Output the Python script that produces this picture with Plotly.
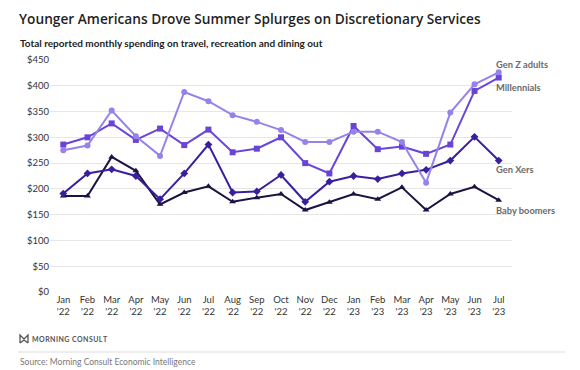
import plotly.graph_objects as go

months = ["Jan<br>'22", "Feb<br>'22", "Mar<br>'22", "Apr<br>'22", "May<br>'22", "Jun<br>'22",
          "Jul<br>'22", "Aug<br>'22", "Sep<br>'22", "Oct<br>'22", "Nov<br>'22", "Dec<br>'22",
          "Jan<br>'23", "Feb<br>'23", "Mar<br>'23", "Apr<br>'23", "May<br>'23", "Jun<br>'23", "Jul<br>'23"]

gen_z = [275, 284, 352, 302, 264, 388, 370, 343, 330, 314, 291, 291, 311, 311, 291, 212, 348, 403, 426]
millennials = [286, 300, 327, 295, 317, 285, 315, 271, 278, 300, 250, 230, 322, 277, 282, 268, 286, 390, 416]
gen_x = [191, 230, 238, 225, 180, 230, 286, 193, 195, 227, 175, 214, 225, 219, 230, 237, 255, 301, 255]
boomers = [186, 186, 262, 235, 170, 193, 205, 175, 183, 190, 159, 174, 190, 180, 203, 159, 190, 204, 178]

y_ticks = [0, 50, 100, 150, 200, 250, 300, 350, 400, 450]
y_labels = ["$" + str(v) for v in y_ticks]

series = [
    ("Gen Z adults", gen_z, "#9682e8", "circle", 442),
    ("Millennials", millennials, "#6a43d8", "square", 397),
    ("Gen Xers", gen_x, "#3a1e9e", "diamond", 237),
    ("Baby boomers", boomers, "#1b1342", "triangle-up", 159),
]

OFF = 8  # page body margin
W, H = 580 - OFF, 370 - OFF
L, T = 50 - OFF, 60 - OFF
R = W - (512 - OFF)
B = H - (292 - OFF)
pw, ph = W - L - R, H - T - B


def px(x):
    return (x - OFF - L) / pw


def py(y):
    return (H - B - (y - OFF)) / ph


x_idx = list(range(len(months)))
fig = go.Figure()
for name, vals, color, sym, _ in series[::-1]:
    fig.add_trace(go.Scatter(
        x=x_idx, y=vals, mode="lines+markers", name=name,
        line=dict(color=color, width=2),
        marker=dict(symbol=sym, size=6, color=color),
        showlegend=False, hoverinfo="skip",
    ))

for name, vals, color, sym, ly in series:
    fig.add_annotation(x=len(months) - 1, y=ly, xref="x", yref="y", text="<b>" + name + "</b>",
                       showarrow=False, xanchor="left", xshift=-5,
                       font=dict(family="Lato, Open Sans, sans-serif", size=9.3, color="#6b6b6b"))

fig.add_annotation(x=px(18), y=py(8), xref="paper", yref="paper", xanchor="left", yanchor="top",
                   text="Younger Americans Drove Summer Splurges on Discretionary Services",
                   showarrow=False, borderpad=0,
                   font=dict(family="Open Sans, sans-serif", size=13.7, weight=600, color="#1f1f1f"))
fig.add_annotation(x=px(18), y=py(43), xref="paper", yref="paper", xanchor="left", yanchor="middle",
                   text="<b>Total reported monthly spending on travel, recreation and dining out</b>",
                   showarrow=False, font=dict(family="Lato, sans-serif", size=10, color="#222222"))
fig.add_annotation(x=px(30), y=py(339), xref="paper", yref="paper", xanchor="left", yanchor="middle",
                   text="<b>" + "\u200a".join("MORNING CONSULT") + "</b>",
                   showarrow=False, font=dict(family="Lato, sans-serif", size=7, color="#555555"))
fig.add_annotation(x=px(18), y=py(362), xref="paper", yref="paper", xanchor="left", yanchor="middle",
                   text="Source: Morning Consult Economic Intelligence",
                   showarrow=False, font=dict(family="Lato, sans-serif", size=8.5, color="#777777"))
fig.add_shape(type="line", xref="paper", yref="paper", x0=px(18), x1=px(565), y0=py(352), y1=py(352),
              line=dict(color="#dddddd", width=1))
fig.add_shape(type="path", xref="paper", yref="paper",
              path=f"M {px(20)} {py(343)} L {px(20)} {py(335)} L {px(24)} {py(339)} L {px(28)} {py(335)} "
                   f"L {px(28)} {py(343)} M {px(20)} {py(343)} L {px(24)} {py(340)} L {px(28)} {py(343)}",
              line=dict(color="#555555", width=1.3))

fig.update_layout(
    width=W, height=H,
    margin=dict(l=L, r=R, t=T, b=B),
    paper_bgcolor="white", plot_bgcolor="white",
    font=dict(family="Lato, Open Sans, sans-serif", size=9.5, color="#333333"),
    xaxis=dict(tickmode="array", tickvals=x_idx, ticktext=months, range=[-0.55, len(months) - 0.45],
               showgrid=False, zeroline=False, showline=False, ticks="",
               tickfont=dict(size=9.5, color="#333333")),
    yaxis=dict(tickmode="array", tickvals=y_ticks, ticktext=y_labels, range=[0, 450],
               showgrid=True, gridcolor="#e6e6e6", gridwidth=1, zeroline=False, ticks="",
               tickfont=dict(size=9.5, color="#333333")),
)

fig.write_html("out.html")
